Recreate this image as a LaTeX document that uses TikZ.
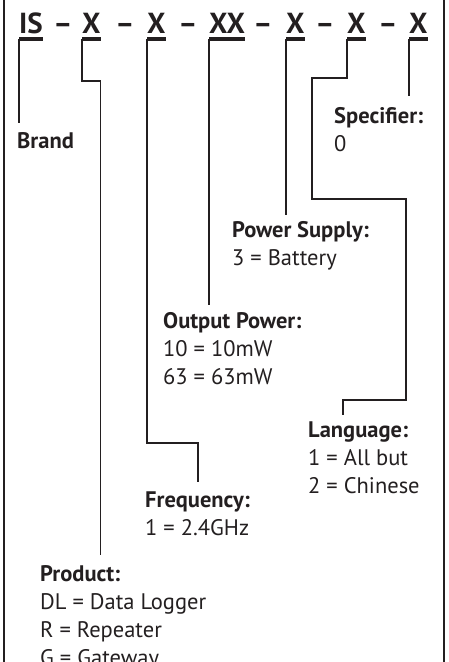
\documentclass[tikz,border=0pt]{standalone}
\usepackage{fontspec}
\setmainfont{PT Sans}
\definecolor{ink}{HTML}{231F20}

\begin{document}
\begin{tikzpicture}[x=1pt,y=-1pt,
    code/.style={font=\fontsize{29}{29}\selectfont\bfseries, text=ink, inner sep=0pt},
    lbl/.style={font=\fontsize{22.5}{28}\selectfont, text=ink, align=left, inner sep=0pt, anchor=north west},
    conn/.style={draw=ink, line width=1.2pt}]
    \useasboundingbox (0,0) rectangle (448,662);
    %\draw[very thin,color=gray] (0,0) grid[step=50] (448,662);
    \draw[ink,line width=2pt] (4,0) -- (4,662);
    \draw[ink,line width=2pt] (444,0) -- (444,662);
    % code line
    \node[code,anchor=base west] (brandC) at (19,33) {IS};
    \node[code,anchor=base west] (prodC) at (82,33) {X};
    \node[code,anchor=base west] (freqC) at (147,33) {X};
    \node[code,anchor=base west] (powC) at (209,33) {XX};
    \node[code,anchor=base west] (supC) at (286,33) {X};
    \node[code,anchor=base west] (langC) at (347,33) {X};
    \node[code,anchor=base west] (specC) at (409,33) {X};
    \foreach \x in {63,125,188,263,325,388}
        \node[code,anchor=base] (d\x) at (\x,33) {--};
    \foreach \n in {brandC,prodC,freqC,powC,supC,langC,specC}
        \fill[ink] ([yshift=-4pt]\n.base west) rectangle ([yshift=-8pt]\n.base east);
    % labels (north = first baseline - 19.6)
    \node[lbl] (brand) at (17,128.4) {\bfseries\strut Brand};
    \node[lbl] (spec) at (334,103.4) {\bfseries\strut Specifier:\\0};
    \node[lbl] (sup) at (232,217.4) {\bfseries\strut Power Supply:\\3 = Battery};
    \node[lbl] (pow) at (163,308.4) {\bfseries\strut Output Power:\\10 = 10mW\\63 = 63mW};
    \node[lbl] (lang) at (308,417.4) {\bfseries\strut Language:\\1 = All but\\2 = Chinese};
    \node[lbl] (freq) at (145,487.4) {\bfseries\strut Frequency:\\1 = 2.4GHz};
    \node[lbl] (prod) at (40,561.4) {\bfseries\strut Product:\\DL = Data Logger\\R = Repeater\\G = Gateway};
    % connectors
    \draw[conn] ([yshift=-6pt]brandC.base west) -- ([yshift=5pt]brandC.base west |- brand.north);
    \draw[conn] ([yshift=-6pt]prodC.base west) -- ++(0,42) -| ([yshift=6pt]prodC.base east |- prod.north);
    \draw[conn] ([yshift=-6pt]freqC.base west) -- ++(0,404) -| ([yshift=5pt]freq.north -| 198,0);
    \draw[conn] ([yshift=-6pt]powC.base west) -- ([yshift=3pt]powC.base west |- pow.north);
    \draw[conn] ([yshift=-6pt]supC.base west) -- ([yshift=2pt]supC.base west |- sup.north);
    \draw[conn] ([yshift=-6pt]langC.base west) -- ++(0,39) -| (312,199) -| (406,400) -| ([yshift=2pt]lang.north -| 343,0);
    \draw[conn] ([yshift=-6pt]specC.base west) -- ([yshift=7pt]specC.base west |- spec.north);
\end{tikzpicture}
\end{document}
